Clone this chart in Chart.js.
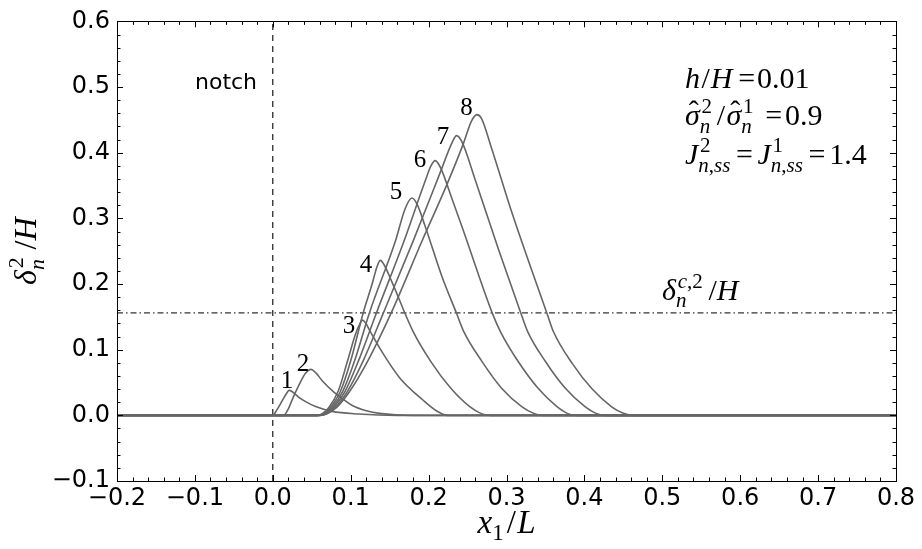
<!DOCTYPE html>
<html lang="en">
<head>
<meta charset="UTF-8">
<title>delta_n^2/H vs x1/L</title>
<script src="https://cdn.jsdelivr.net/npm/chart.js@4"></script>
<style>
  html, body { margin: 0; padding: 0; background: #fff; }
  #wrap { width: 922px; height: 549px; }
</style>
</head>
<body>
<div id="wrap"><canvas id="c" width="922" height="549"></canvas></div>
<script>
// profiles n = 1..8, points [x1/L, delta/H]
const curve1 = [[-0.2,0],[0,0],[0.005,0.008],[0.012,0.022],[0.018,0.034],[0.021,0.038],[0.025,0.036],[0.034,0.027],[0.045,0.019],[0.055,0.0135],[0.076,0.006],[0.11,0.002],[0.16,0],[0.8,0]];
const curve2 = [[-0.2,0],[0.014,0],[0.02,0.01],[0.025,0.024],[0.034,0.047],[0.042,0.064],[0.049,0.070],[0.055,0.065],[0.064,0.052],[0.077,0.037],[0.09,0.025],[0.102,0.015],[0.12,0.007],[0.137,0.003],[0.18,0],[0.8,0]];
const curve3 = [[-0.2,0],[0.056,0],[0.064,0.003],[0.072,0.012],[0.084,0.037],[0.096,0.083],[0.106,0.123],[0.112,0.140],[0.115,0.145],[0.119,0.141],[0.125,0.128],[0.14,0.097],[0.163,0.057],[0.193,0.023],[0.21,0.007],[0.224,0],[0.8,0]];
const curve4 = [[-0.2,0],[0.057,0],[0.065,0.002],[0.074,0.012],[0.087,0.037],[0.1,0.083],[0.116,0.156],[0.127,0.198],[0.134,0.227],[0.138,0.236],[0.143,0.229],[0.153,0.203],[0.18,0.128],[0.204,0.08],[0.228,0.042],[0.252,0.014],[0.267,0.003],[0.279,0],[0.8,0]];
const curve5 = [[-0.2,0],[0.058,0],[0.066,0.002],[0.076,0.012],[0.09,0.037],[0.105,0.083],[0.124,0.156],[0.157,0.264],[0.17,0.315],[0.1785,0.331],[0.185,0.322],[0.195,0.29],[0.217,0.212],[0.236,0.155],[0.245,0.128],[0.268,0.083],[0.294,0.041],[0.32,0.013],[0.335,0.003],[0.347,0],[0.8,0]];
const curve6 = [[-0.2,0],[0.059,0],[0.067,0.002],[0.078,0.012],[0.093,0.037],[0.11,0.083],[0.133,0.156],[0.168,0.264],[0.195,0.355],[0.203,0.38],[0.2085,0.388],[0.215,0.378],[0.23,0.33],[0.245,0.28],[0.281,0.158],[0.292,0.128],[0.315,0.082],[0.34,0.042],[0.364,0.014],[0.378,0.003],[0.39,0],[0.8,0]];
const curve7 = [[-0.2,0],[0.06,0],[0.068,0.002],[0.08,0.012],[0.096,0.037],[0.116,0.083],[0.142,0.156],[0.18,0.265],[0.215,0.37],[0.23,0.415],[0.236,0.426],[0.243,0.416],[0.26,0.358],[0.29,0.252],[0.318,0.157],[0.327,0.128],[0.35,0.082],[0.375,0.042],[0.40,0.014],[0.415,0.003],[0.428,0],[0.8,0]];
const curve8 = [[-0.2,0],[0.061,0],[0.069,0.002],[0.082,0.012],[0.099,0.037],[0.122,0.083],[0.152,0.156],[0.191,0.264],[0.224,0.353],[0.245,0.415],[0.255,0.448],[0.262,0.458],[0.268,0.452],[0.28,0.41],[0.308,0.305],[0.352,0.155],[0.36,0.128],[0.385,0.078],[0.41,0.04],[0.435,0.013],[0.45,0.003],[0.463,0],[0.8,0]];
const curves = [curve1, curve2, curve3, curve4, curve5, curve6, curve7, curve8];
const curveNames = ['1','2','3','4','5','6','7','8'];
// where each number label sits (data coords, text baseline)
const curveLabelAt = [[0.0182,0.041],[0.0388,0.068],[0.0978,0.126],[0.1195,0.219],[0.158,0.329],[0.1889,0.378],[0.2185,0.413],[0.2487,0.458]];

const thresholdY = 0.156;   // delta_n^{c,2}/H
const notchX = 0.0;

const xTickValues = [-0.2,-0.1,0.0,0.1,0.2,0.3,0.4,0.5,0.6,0.7,0.8];
const xTickLabels = ['−0.2','−0.1','0.0','0.1','0.2','0.3','0.4','0.5','0.6','0.7','0.8'];
const yTickValues = [-0.1,0.0,0.1,0.2,0.3,0.4,0.5,0.6];
const yTickLabels = ['−0.1','0.0','0.1','0.2','0.3','0.4','0.5','0.6'];

const SERIF = '"Liberation Serif", "DejaVu Serif", serif';
const SANS = '"DejaVu Sans", "Liberation Sans", sans-serif';

// --- small math-text helper: letters italic, digits/symbols upright ---
function fontFor(ch, size) {
  const it = /[A-Za-z\u03b1-\u03c9]/.test(ch);
  return (it ? 'italic ' : '') + size + 'px ' + SERIF;
}
function runWidth(ctx, s, size) {
  let w = 0;
  for (const ch of s) { ctx.font = fontFor(ch, size); w += ctx.measureText(ch).width; }
  return w;
}
function drawRun(ctx, s, x, y, size) {
  for (const ch of s) { ctx.font = fontFor(ch, size); ctx.fillText(ch, x, y); x += ctx.measureText(ch).width; }
}
function drawMath(ctx, segs, x, y, size, dry) {
  let cx = x;
  const ss = Math.round(size * 0.7);
  ctx.textAlign = 'left';
  ctx.textBaseline = 'alphabetic';
  for (const s of segs) {
    if (s.gap) { cx += s.gap * size; continue; }
    if (s.t) {
      if (!dry) drawRun(ctx, s.t, cx, y, size);
      cx += runWidth(ctx, s.t, size);
    }
    if (s.hat) {
      const w = runWidth(ctx, s.hat, size);
      if (!dry) {
        drawRun(ctx, s.hat, cx, y, size);
        ctx.font = size + 'px ' + SERIF;
        ctx.textAlign = 'center';
        ctx.fillText('ˆ', cx + w * 0.6, y - size * 0.12);
        ctx.textAlign = 'left';
      }
      cx += w;
    }
    if (s.sup || s.sub) {
      const w1 = s.sup ? runWidth(ctx, s.sup, ss) : 0;
      const w2 = s.sub ? runWidth(ctx, s.sub, ss) : 0;
      if (!dry) {
        if (s.sup) drawRun(ctx, s.sup, cx + size * 0.06, y - size * 0.40, ss);
        if (s.sub) drawRun(ctx, s.sub, cx, y + size * (s.sup ? 0.26 : 0.22), ss);
      }
      cx += Math.max(w1 + size * 0.06, w2) + size * 0.04;
    }
  }
  return cx - x;
}

const paramLines = [
  [{t:'h'},{gap:0.05},{t:'/'},{gap:0.03},{t:'H'},{gap:0.2},{t:'='},{gap:0.06},{t:'0.01'}],
  [{hat:'σ'},{sup:'2',sub:'n'},{gap:0.12},{t:'/'},{gap:0.04},{hat:'σ'},{sup:'1',sub:'n'},{gap:0.35},{t:'='},{gap:0.1},{t:'0.9'}],
  [{t:'J'},{sup:'2',sub:'n,ss'},{gap:0.15},{t:'='},{gap:0.15},{t:'J'},{sup:'1',sub:'n,ss'},{gap:0.15},{t:'='},{gap:0.12},{t:'1.4'}]
];
const paramAt = [[0.5291,0.4988],[0.5291,0.4421],[0.5291,0.3824]];
const critLabel = [{t:'δ'},{sup:'c,2',sub:'n'},{gap:0.15},{t:'/'},{t:'H'}];
const critAt = [0.4996, 0.1763];
const notchAt = [-0.0999, 0.4973];
const yTitle = [{t:'δ'},{sup:'2',sub:'n'},{gap:0.2},{t:'/'},{t:'H'}];
const xTitle = [{t:'x'},{sub:'1'},{gap:0.05},{t:'/'},{gap:0.04},{t:'L'}];

const decorations = {
  id: 'decorations',
  afterDraw(chart) {
    const {ctx, chartArea: a, scales: {x, y}} = chart;
    ctx.save();
    // frame
    ctx.strokeStyle = '#000';
    ctx.lineWidth = 1;
    ctx.strokeRect(Math.round(a.left) + 0.5, Math.round(a.top) + 0.5,
                   Math.round(a.right - a.left), Math.round(a.bottom - a.top));
    // inward ticks, all four sides
    ctx.beginPath();
    for (let k = 0; k <= 50; k++) {
      const v = x.min + k * 0.02;
      const px = Math.round(x.getPixelForValue(v)) + 0.5;
      const len = k % 5 === 0 ? 6 : 3.5;
      ctx.moveTo(px, a.bottom); ctx.lineTo(px, a.bottom - len);
      ctx.moveTo(px, a.top); ctx.lineTo(px, a.top + len);
    }
    for (let k = 0; k <= 35; k++) {
      const v = y.min + k * 0.02;
      const py = Math.round(y.getPixelForValue(v)) + 0.5;
      const len = k % 5 === 0 ? 6 : 3.5;
      ctx.moveTo(a.left, py); ctx.lineTo(a.left + len, py);
      ctx.moveTo(a.right, py); ctx.lineTo(a.right - len, py);
    }
    ctx.stroke();

    ctx.fillStyle = '#000';
    // curve numbers
    ctx.font = '25px ' + SERIF;
    ctx.textAlign = 'center';
    ctx.textBaseline = 'alphabetic';
    curveNames.forEach((n, i) => {
      ctx.fillText(n, x.getPixelForValue(curveLabelAt[i][0]), y.getPixelForValue(curveLabelAt[i][1]));
    });
    // notch
    ctx.font = '22px ' + SANS;
    ctx.textAlign = 'left';
    ctx.fillText('notch', x.getPixelForValue(notchAt[0]), y.getPixelForValue(notchAt[1]));
    // parameters
    paramLines.forEach((segs, i) => {
      drawMath(ctx, segs, x.getPixelForValue(paramAt[i][0]), y.getPixelForValue(paramAt[i][1]), 30);
    });
    drawMath(ctx, critLabel, x.getPixelForValue(critAt[0]), y.getPixelForValue(critAt[1]), 30);

    // axis titles
    const tx = drawMath(ctx, xTitle, 0, 0, 33, true);
    drawMath(ctx, xTitle, (a.left + a.right) / 2 - tx / 2, 533, 33);
    const ty = drawMath(ctx, yTitle, 0, 0, 32, true);
    ctx.translate(36, (a.top + a.bottom) / 2);
    ctx.rotate(-Math.PI / 2);
    drawMath(ctx, yTitle, -ty / 2, 0, 32);
    ctx.restore();
  }
};

const datasets = curves.map((c, i) => ({
  label: 'n = ' + curveNames[i],
  data: c.map(p => ({x: p[0], y: p[1]})),
  borderColor: '#666666',
  borderWidth: 1.6,
  pointRadius: 0,
  cubicInterpolationMode: 'monotone',
  fill: false
}));
datasets.push({
  label: 'notch',
  data: [{x: notchX, y: -0.1}, {x: notchX, y: 0.6}],
  borderColor: '#000',
  borderWidth: 1.1,
  borderDash: [6, 5],
  pointRadius: 0
});
datasets.push({
  label: 'critical',
  data: [{x: -0.2, y: thresholdY}, {x: 0.8, y: thresholdY}],
  borderColor: '#000',
  borderWidth: 1,
  borderDash: [6, 3, 1.5, 3],
  pointRadius: 0
});

new Chart(document.getElementById('c'), {
  type: 'line',
  data: { datasets },
  options: {
    responsive: false,
    animation: false,
    events: [],
    layout: { padding: { left: 0, right: 26, top: 18, bottom: 0 } },
    plugins: { legend: { display: false }, tooltip: { enabled: false } },
    scales: {
      x: {
        type: 'linear', min: -0.2, max: 0.8,
        afterBuildTicks: s => { s.ticks = xTickValues.map(v => ({ value: v })); },
        afterFit: s => { s.height = 68; },
        grid: { display: false, drawTicks: false },
        border: { display: false },
        ticks: {
          callback: (v, i) => xTickLabels[i],
          font: { family: SANS, size: 24 }, color: '#000', padding: 3, maxRotation: 0, autoSkip: false
        }
      },
      y: {
        type: 'linear', min: -0.1, max: 0.6,
        afterBuildTicks: s => { s.ticks = yTickValues.map(v => ({ value: v })); },
        afterFit: s => { s.width = 117; },
        grid: { display: false, drawTicks: false },
        border: { display: false },
        ticks: {
          callback: (v, i) => yTickLabels[i],
          font: { family: SANS, size: 24 }, color: '#000', padding: 7, autoSkip: false
        }
      }
    }
  },
  plugins: [decorations]
});
</script>
</body>
</html>
